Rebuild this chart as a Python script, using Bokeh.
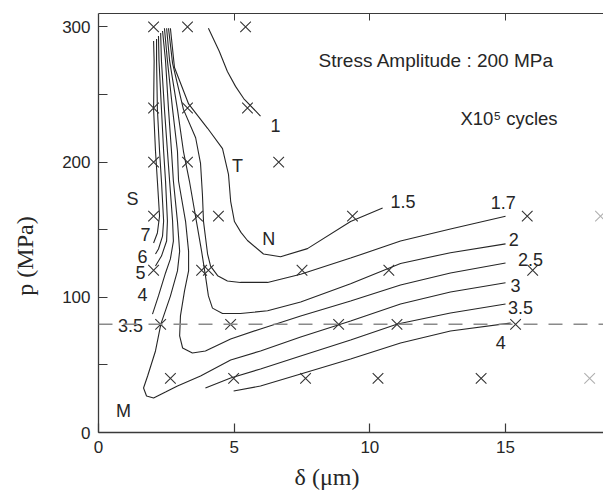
import math
from bokeh.plotting import figure
from bokeh.models import Range1d, FixedTicker, LinearAxis, Span, Label, ColumnDataSource
from bokeh.embed import file_html
from bokeh.resources import INLINE
from bokeh.core.properties import value

# ---------------- data ----------------
x_ticks = [0, 5, 10, 15]
y_ticks = [0, 100, 200, 300]
y_minor = [50, 150, 250]
top_ticks = [5, 10, 15]
ref_p = 80  # dashed reference level (MPa)

# measured points (crosses)
mark_d = [2.03, 3.28, 5.42,
          2.03, 3.28, 5.49,
          2.03, 3.28, 6.64,
          2.03, 3.65, 4.42, 9.36, 15.8,
          2.03, 3.80, 4.05, 7.5, 10.7, 16.0,
          2.29, 4.87, 8.85, 11.0, 15.37,
          2.65, 4.98, 7.63, 10.3, 14.1]
mark_p = [300, 300, 300,
          240, 240, 240,
          200, 200, 200,
          160, 160, 160, 160, 160,
          120, 120, 120, 120, 120, 120,
          80, 80, 80, 80, 80,
          40, 40, 40, 40, 40]
faded_d = [18.5, 18.1]
faded_p = [160, 40]

# contour lines (life, x10^5 cycles)
c1_d = [4.05, 4.45, 4.75, 5.05, 5.35, 5.97]
c1_p = [299, 282, 267, 256, 247, 234]

c15_d = [2.65, 2.80, 3.32, 4.02, 4.57, 4.79, 4.87, 5.01, 5.25, 5.49, 6.08, 6.71, 7.70, 9.29, 10.47]
c15_p = [299, 270, 243, 225, 210, 191, 171, 156, 148, 142, 132, 130, 136, 156, 166]

c17_d = [2.58, 2.73, 3.13, 3.58, 3.76, 3.83, 3.87, 4.02, 4.13, 4.39, 4.75, 5.23, 6.23, 7.45, 9.29, 11.13, 12.97, 15.0]
c17_p = [299, 273, 239, 218, 199, 176, 156, 132, 123, 116, 112, 111, 111, 117, 129, 141.6, 150.5, 160]

c2_d = [2.51, 2.62, 2.91, 3.13, 3.35, 3.61, 3.80, 3.94, 4.05, 4.20, 4.57, 5.23, 6.23, 7.45, 9.29, 11.13, 12.97, 15.0]
c2_p = [299, 275, 239, 208, 186, 156, 134, 116, 101, 92, 88, 88, 90, 96.5, 110, 125, 133, 139.5]

c25_d = [2.43, 2.54, 2.73, 2.91, 2.95, 3.21, 3.32, 3.32, 3.17, 3.02, 2.99, 3.10, 3.46, 3.94, 4.87, 5.97, 7.45, 9.29, 11.13, 12.97, 15.0]
c25_p = [299, 275, 239, 208, 186, 156, 134, 119.5, 104.7, 86.2, 71.4, 62.5, 58.8, 60.3, 69.2, 76.6, 86.2, 97.3, 109.1, 118, 125.4]

c3_d = [2.36, 2.47, 2.58, 2.69, 2.76, 2.91, 2.99, 2.91, 2.65, 2.30, 2.10, 1.81, 1.66, 1.77, 2.03, 2.47, 2.91, 3.76, 4.87, 5.97, 7.45, 9.29, 11.13, 12.97, 15.0]
c3_p = [297, 275, 239, 208, 186, 156, 134, 119.5, 100.9, 80.3, 60.3, 41.8, 32.9, 27.0, 25.5, 29.9, 34.4, 41.8, 53.6, 60.3, 70.6, 82.5, 95.0, 103.9, 110.7]

c35_d = [3.94, 4.87, 5.97, 7.45, 9.29, 11.02, 12.97, 15.0]
c35_p = [32.9, 40.3, 47.0, 56.6, 68.4, 80.3, 88.4, 95.0]

c4_d = [4.98, 5.97, 7.45, 9.29, 11.13, 12.97, 15.19]
c4_p = [30.7, 34.4, 43.3, 54.4, 66.2, 75.1, 81.0]

c4l_d = [2.29, 2.32, 2.43, 2.54, 2.62, 2.73, 2.76, 2.65, 2.47, 2.21, 1.99]
c4l_p = [295.5, 274.8, 239.3, 208.2, 186.0, 156.4, 141.6, 128.4, 118.0, 101.0, 87.6]

c5_d = [2.21, 2.23, 2.32, 2.40, 2.47, 2.54, 2.51, 2.32, 2.10]
c5_p = [293.3, 274.8, 239.3, 208.2, 186.0, 156.4, 141.6, 130.5, 123.2]

c6_d = [2.14, 2.14, 2.17, 2.25, 2.32, 2.40, 2.36, 2.21, 2.10]
c6_p = [291.1, 274.8, 239.3, 208.2, 186.0, 156.4, 145.3, 135.7, 132.0]

c7_d = [2.03, 2.05, 2.03, 2.10, 2.17, 2.25, 2.17, 2.03]
c7_p = [289.6, 274.8, 239.3, 208.2, 186.0, 160.1, 147.6, 140.2]

contours = [(c1_d, c1_p), (c15_d, c15_p), (c17_d, c17_p), (c2_d, c2_p),
            (c25_d, c25_p), (c3_d, c3_p), (c35_d, c35_p), (c4_d, c4_p),
            (c4l_d, c4l_p), (c5_d, c5_p), (c6_d, c6_p), (c7_d, c7_p)]

# contour / region labels
lab_text = ["1", "1.5", "1.7", "2", "2.5", "3", "3.5", "4",
            "7", "6", "5", "4", "3.5", "S", "T", "N", "M"]
lab_d = [6.52, 11.22, 14.92, 15.30, 15.92, 15.37, 15.55, 14.82,
         1.73, 1.62, 1.55, 1.62, 1.18, 1.25, 5.12, 6.27, 0.92]
lab_p = [226.7, 171.0, 170.0, 142.9, 128.1, 108.4, 92.8, 66.4,
         146.8, 130.5, 118.0, 102.4, 78.8, 172.6, 197.0, 143.0, 15.9]

title_text = "Stress Amplitude : 200 MPa"
unit_text = "X10\u2075 cycles"
x_title = "\u03b4 (\u03bcm)"
y_title = "p (MPa)"

# ---------------- figure ----------------
INK = "#262626"
NB = "\u00a0"
p = figure(width=603, height=493, x_range=Range1d(0, 18.61), y_range=Range1d(0, 309.9),
           output_backend="svg", toolbar_location=None)
p.min_border_left = 98
p.min_border_right = 0
p.min_border_top = 13
p.min_border_bottom = 61
p.outline_line_color = None
p.xgrid.visible = False
p.ygrid.visible = False
p.background_fill_color = "white"
p.border_fill_color = "white"

for ax in (p.xaxis[0], p.yaxis[0]):
    ax.axis_line_color = "#3a3a3a"
    ax.axis_line_width = 1.3
    ax.major_tick_line_color = "#3a3a3a"
    ax.major_tick_line_width = 1.2
    ax.major_tick_in = 9
    ax.major_tick_out = 0
    ax.major_label_text_font = "Liberation Sans"
    ax.major_label_text_font_size = "17px"
    ax.major_label_text_color = INK
    ax.axis_label_text_font = "Liberation Serif"
    ax.axis_label_text_font_style = "normal"
    ax.axis_label_text_font_size = "24px"
    ax.axis_label_text_color = INK

xa = p.xaxis[0]
xa.ticker = FixedTicker(ticks=x_ticks, minor_ticks=[])
xa.major_label_standoff = 8
# trailing no-break spaces shift the centred title left to where the reference has it
xa.axis_label = x_title + NB * 8
xa.axis_label_standoff = 8

ya = p.yaxis[0]
ya.ticker = FixedTicker(ticks=y_ticks, minor_ticks=y_minor)
ya.minor_tick_in = 9
ya.minor_tick_out = 0
ya.minor_tick_line_color = "#3a3a3a"
ya.minor_tick_line_width = 1.2
ya.major_label_standoff = 8
ya.axis_label = y_title + NB * 11
ya.axis_label_standoff = 21

top = LinearAxis(ticker=FixedTicker(ticks=top_ticks, minor_ticks=[]),
                 axis_line_color="#3a3a3a", axis_line_width=1.2,
                 major_tick_line_color="#3a3a3a", major_tick_in=7, major_tick_out=0,
                 major_label_text_font_size="1px", major_label_text_alpha=0,
                 major_label_standoff=0)
p.add_layout(top, "above")

# dashed reference line
p.add_layout(Span(location=ref_p, dimension="width", line_color="#8a8a8a",
                  line_width=1.5, line_dash="14 11"))

# contours
for d, pp in contours:
    p.line(d, pp, line_color=INK, line_width=1.1)

# crosses
p.scatter(mark_d, mark_p, marker="x", size=15, line_color="#333333", line_width=1.1)
p.scatter(faded_d, faded_p, marker="x", size=15, line_color="#b0b0b0", line_width=1.1)

# labels
src = ColumnDataSource(dict(x=lab_d, y=lab_p, t=lab_text))
p.text(x="x", y="y", text="t", source=src, text_font=value("Liberation Sans"),
       text_font_size="18px", text_color=INK, text_align="center", text_baseline="middle")

p.add_layout(Label(x=8.11, y=274.8, text=title_text, text_font="Liberation Sans",
                   text_font_size="19px", text_color=INK, text_align="left", text_baseline="middle"))
p.add_layout(Label(x=13.34, y=232.6, text=unit_text, text_font="Liberation Sans",
                   text_font_size="18.5px", text_color=INK, text_align="left", text_baseline="middle"))

open("out.html", "w").write(file_html(p, INLINE))
